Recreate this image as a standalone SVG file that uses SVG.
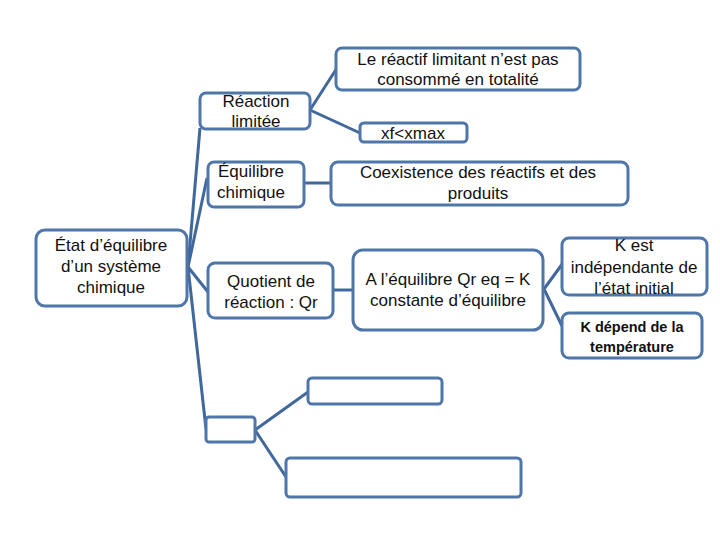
<svg xmlns="http://www.w3.org/2000/svg" width="720" height="540" viewBox="0 0 720 540">
<style>
.box{fill:#fff;stroke:#4f76a8;stroke-width:3}
.ln{stroke:#41689c;stroke-width:3;fill:none}
text{font-family:"Liberation Sans","DejaVu Sans",sans-serif;font-size:17px;fill:#111;text-anchor:middle}
.b{font-weight:bold;font-size:14.5px}
</style>
<rect width="720" height="540" fill="#fff"/>
<g id="connectors">
<line class="ln" x1="188" y1="267" x2="200" y2="128"/>
<line class="ln" x1="188" y1="267" x2="207" y2="178"/>
<line class="ln" x1="188" y1="267" x2="208" y2="292"/>
<line class="ln" x1="188" y1="267" x2="206" y2="429"/>
<line class="ln" x1="310" y1="110" x2="337" y2="68"/>
<line class="ln" x1="310" y1="110" x2="360" y2="133"/>
<line class="ln" x1="304" y1="183" x2="331" y2="183"/>
<line class="ln" x1="333" y1="290" x2="353" y2="290"/>
<line class="ln" x1="544" y1="289" x2="563" y2="263"/>
<line class="ln" x1="544" y1="289" x2="563" y2="328"/>
<line class="ln" x1="255" y1="430" x2="308" y2="392"/>
<line class="ln" x1="255" y1="430" x2="286" y2="477"/>
</g>
<g id="root"><rect class="box" x="36" y="230" width="151" height="76" rx="9"/>
<text x="111" y="251">État d’équilibre</text><text x="111" y="272">d’un système</text><text x="111" y="293">chimique</text></g>
<g id="reaction"><rect class="box" x="200" y="93" width="110" height="36" rx="6"/>
<text x="256" y="107">Réaction</text><text x="256" y="127">limitée</text></g>
<g id="reactif"><rect class="box" x="336" y="48" width="244" height="42" rx="6"/>
<text x="458" y="65">Le réactif limitant n’est pas</text><text x="458" y="85">consommé en totalité</text></g>
<g id="xf"><rect class="box" x="360" y="123" width="107" height="19" rx="4"/>
<text x="413" y="139">xf&lt;xmax</text></g>
<g id="equilibre"><rect class="box" x="208" y="162" width="96" height="45" rx="6"/>
<text x="251" y="177">Équilibre</text><text x="251" y="198">chimique</text></g>
<g id="coexistence"><rect class="box" x="331" y="162" width="297" height="43" rx="7"/>
<text x="478" y="178">Coexistence des réactifs et des</text><text x="478" y="199">produits</text></g>
<g id="quotient"><rect class="box" x="208" y="263" width="125" height="55" rx="7"/>
<text x="271" y="287">Quotient de</text><text x="271" y="308">réaction : Qr</text></g>
<g id="aequilibre"><rect class="box" x="353" y="250" width="190" height="80" rx="10"/>
<text x="448" y="285">A l’équilibre Qr eq = K</text><text x="448" y="306">constante d’équilibre</text></g>
<g id="kest"><rect class="box" x="562" y="238" width="145" height="57" rx="7"/>
<text x="634" y="251">K est</text><text x="634" y="273">indépendante de</text><text x="634" y="294">l’état initial</text></g>
<g id="kdepend"><rect class="box" x="562" y="313" width="140" height="45" rx="7"/>
<text class="b" x="632" y="332">K dépend de la</text><text class="b" x="632" y="352">température</text></g>
<g id="empty1"><rect class="box" x="206" y="417" width="49" height="25" rx="3"/></g>
<g id="empty2"><rect class="box" x="308" y="378" width="134" height="26" rx="4"/></g>
<g id="empty3"><rect class="box" x="286" y="458" width="235" height="39" rx="4"/></g>
</svg>
